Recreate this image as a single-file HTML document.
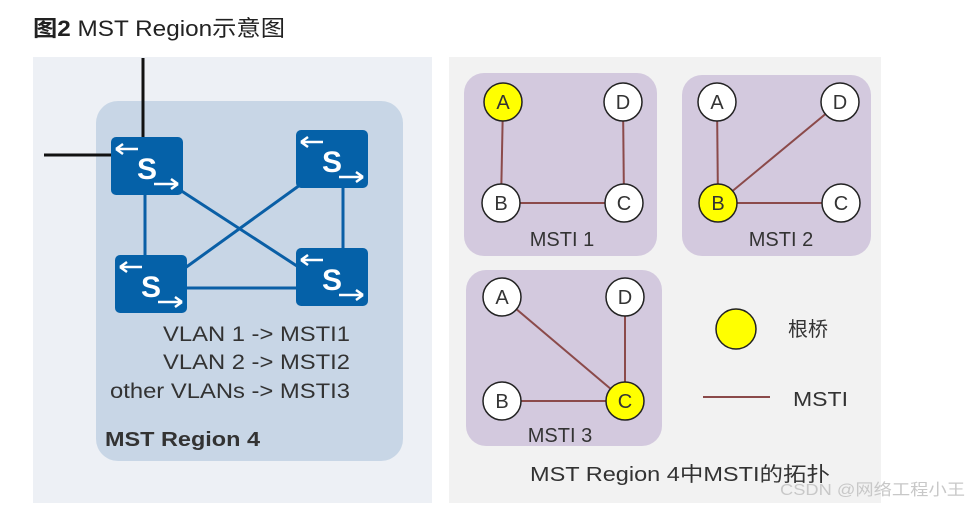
<!DOCTYPE html>
<html><head><meta charset="utf-8"><style>
html,body{margin:0;padding:0;background:#fff;width:968px;height:505px;overflow:hidden}
text{font-family:"Liberation Sans","Noto Sans CJK SC",sans-serif}
</style></head><body>
<svg width="968" height="505" viewBox="0 0 968 505" xmlns="http://www.w3.org/2000/svg">
<defs>
<g id="sw">
<rect x="0" y="0" width="72" height="58" rx="5" fill="#0561a8"/>
<text x="36" y="42" font-size="30" font-weight="bold" fill="#fff" text-anchor="middle">S</text>
<path d="M5 12 H27 M5 12 l7 -5 M5 12 l7 5" stroke="#fff" stroke-width="2.5" fill="none"/>
<path d="M43 47 H67 M67 47 l-7 -5 M67 47 l-7 5" stroke="#fff" stroke-width="2.5" fill="none"/>
</g>
</defs>
<text x="33" y="36" font-size="22" fill="#222" textLength="252" lengthAdjust="spacingAndGlyphs"><tspan font-weight="bold">图2</tspan> MST Region示意图</text>
<rect x="33" y="57" width="399" height="446" fill="#edf0f5"/>
<rect x="449" y="57" width="432" height="446" fill="#f2f2f2"/>
<rect x="96" y="101" width="307" height="360" rx="22" fill="#c8d6e6"/>
<g stroke="#111" stroke-width="3"><line x1="143" y1="58" x2="143" y2="138"/><line x1="44" y1="155" x2="112" y2="155"/></g>
<g stroke="#0a5fa6" stroke-width="3">
<line x1="145" y1="190" x2="145" y2="260"/><line x1="343" y1="185" x2="343" y2="250"/>
<line x1="180" y1="190" x2="300" y2="268"/><line x1="185" y1="268" x2="300" y2="185"/>
<line x1="185" y1="288" x2="300" y2="288"/>
</g>
<use href="#sw" x="111" y="137"/><use href="#sw" x="296" y="130"/>
<use href="#sw" x="115" y="255"/><use href="#sw" x="296" y="248"/>
<g font-size="21" fill="#333">
<text x="163" y="341" textLength="187" lengthAdjust="spacingAndGlyphs">VLAN  1 -&gt; MSTI1</text>
<text x="163" y="369" textLength="187" lengthAdjust="spacingAndGlyphs">VLAN  2 -&gt; MSTI2</text>
<text x="110" y="398" textLength="240" lengthAdjust="spacingAndGlyphs">other VLANs -&gt; MSTI3</text>
</g>
<text x="105" y="446" font-size="20" font-weight="bold" fill="#333" textLength="155" lengthAdjust="spacingAndGlyphs">MST Region 4</text>
<g fill="#d3c9de"><rect x="464" y="73" width="193" height="183" rx="20"/><rect x="682" y="75" width="189" height="181" rx="20"/><rect x="466" y="270" width="196" height="176" rx="20"/></g>
<g stroke="#8b4a4a" stroke-width="2">
<line x1="503" y1="102" x2="501" y2="203"/><line x1="501" y1="203" x2="624" y2="203"/><line x1="623" y1="102" x2="624" y2="203"/>
<line x1="717" y1="102" x2="718" y2="203"/><line x1="718" y1="203" x2="841" y2="203"/><line x1="718" y1="203" x2="840" y2="102"/>
<line x1="502" y1="297" x2="625" y2="401"/><line x1="502" y1="401" x2="625" y2="401"/><line x1="625" y1="297" x2="625" y2="401"/>
<line x1="703" y1="397" x2="770" y2="397"/>
</g>
<g stroke="#222" stroke-width="1.5" fill="#fff">
<circle cx="503" cy="102" r="19" fill="#ffff00"/><circle cx="623" cy="102" r="19"/><circle cx="501" cy="203" r="19"/><circle cx="624" cy="203" r="19"/>
<circle cx="717" cy="102" r="19"/><circle cx="840" cy="102" r="19"/><circle cx="718" cy="203" r="19" fill="#ffff00"/><circle cx="841" cy="203" r="19"/>
<circle cx="502" cy="297" r="19"/><circle cx="625" cy="297" r="19"/><circle cx="502" cy="401" r="19"/><circle cx="625" cy="401" r="19" fill="#ffff00"/>
<circle cx="736" cy="329" r="20" fill="#ffff00"/>
</g>
<g font-size="20" fill="#333" text-anchor="middle">
<text x="503" y="109">A</text><text x="623" y="109">D</text><text x="501" y="210">B</text><text x="624" y="210">C</text>
<text x="717" y="109">A</text><text x="840" y="109">D</text><text x="718" y="210">B</text><text x="841" y="210">C</text>
<text x="502" y="304">A</text><text x="625" y="304">D</text><text x="502" y="408">B</text><text x="625" y="408">C</text>
<text x="562" y="246">MSTI 1</text><text x="781" y="246">MSTI 2</text><text x="560" y="442">MSTI 3</text>
</g>
<text x="530" y="481" font-size="20" fill="#333" textLength="300" lengthAdjust="spacingAndGlyphs">MST Region 4中MSTI的拓扑</text>
<text x="788" y="336" font-size="20" fill="#333">根桥</text>
<text x="793" y="406" font-size="20" fill="#333" textLength="55" lengthAdjust="spacingAndGlyphs">MSTI</text>
<text x="780" y="495" font-size="16" fill="#c8c8c8" textLength="185" lengthAdjust="spacingAndGlyphs">CSDN @网络工程小王</text>
</svg>
</body></html>
